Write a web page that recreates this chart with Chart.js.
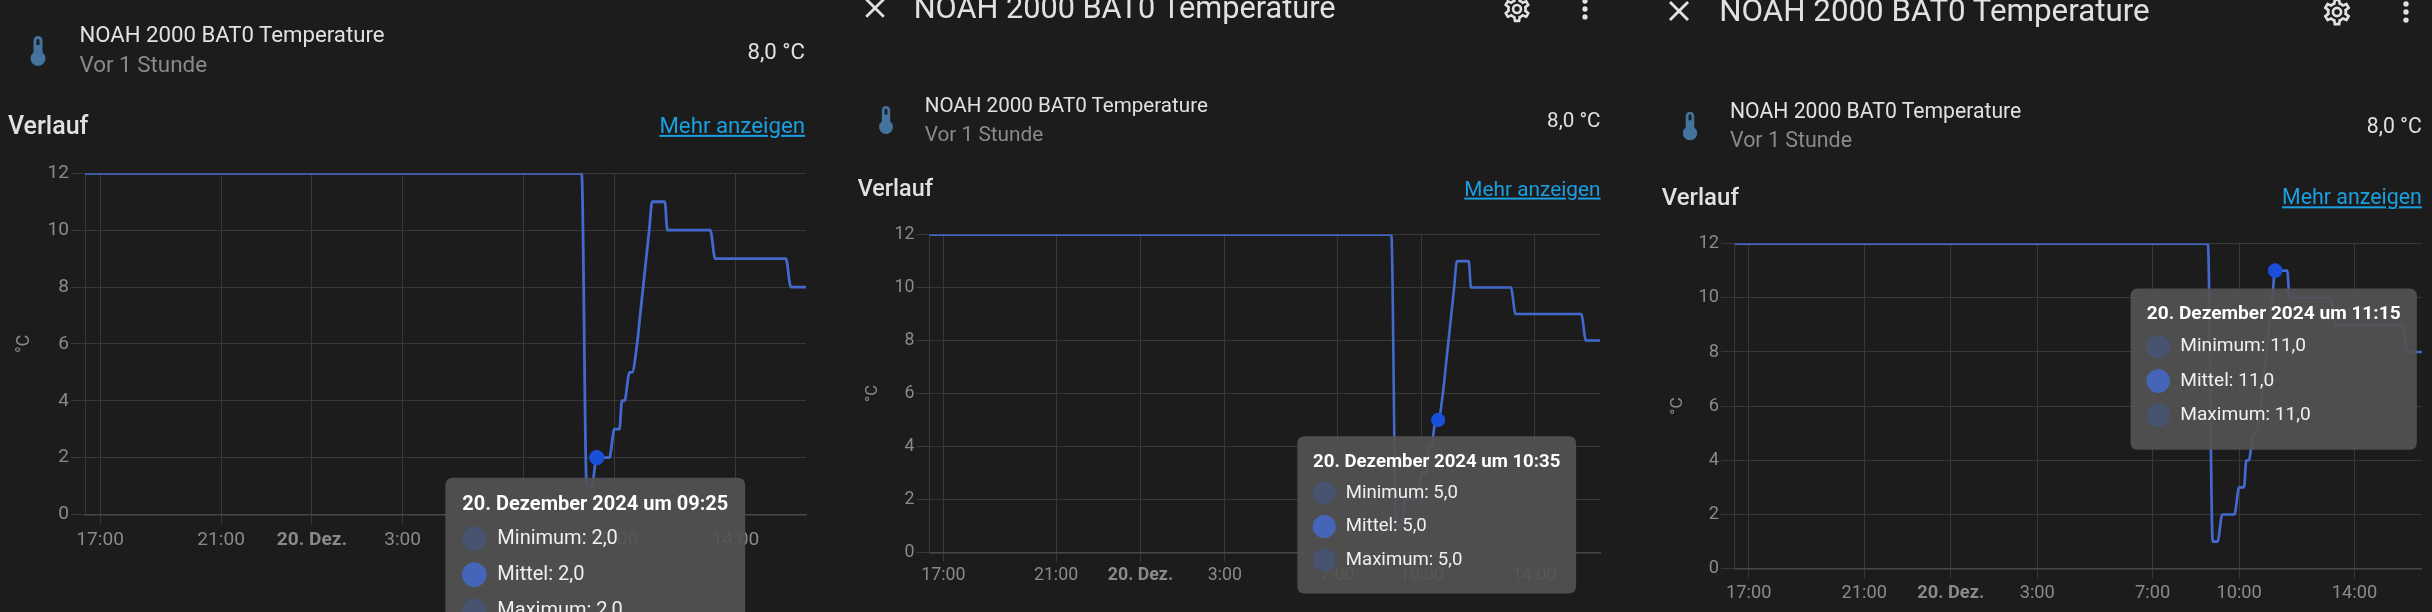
<!DOCTYPE html>
<html lang="de">
<head>
<meta charset="utf-8">
<title>NOAH 2000 BAT0 Temperature</title>
<script src="https://cdn.jsdelivr.net/npm/chart.js@4"></script>
<style>
html, body { margin: 0; width: 2432px; height: 612px; overflow: hidden; background: #1c1c1c; }
body { position: relative; font-family: Roboto, sans-serif; }
canvas { position: absolute; display: block; }
.txt { position: absolute; white-space: nowrap; transform: translateY(-50%); line-height: 1; }
.txt.right { transform: translate(-100%, -50%); }
svg { position: absolute; transform: translate(-50%, -50%); }
</style>
</head>
<body>
<script>
// minutes relative to midnight of 20 Dez (negative = evening before)
let sampleMinutes = [-450, 535, 545, 555, 565, 590, 600, 610, 615, 620, 630, 635, 645, 651, 657, 663, 669, 675, 700, 705, 790, 800, 940, 950, 980];
let temps = [12, 12, 1, 1, 2, 2, 3, 3, 4, 4, 5, 5, 6, 7, 8, 9, 10, 11, 11, 10, 10, 9, 9, 8, 8];

let tickMinutes = [-420, -180, 0, 180, 420, 600, 840];
let tickLabels = ["17:00", "21:00", "20. Dez.", "3:00", "7:00", "10:00", "14:00"];
let seriesNames = ["Minimum", "Mittel", "Maximum"];

let entityName = "NOAH 2000 BAT0 Temperature";
let unitName = "°C";

const ICON_THERMO = "M15 13V5A3 3 0 0 0 9 5V13A5 5 0 1 0 15 13M12 4A1 1 0 0 1 13 5V8H11V5A1 1 0 0 1 12 4Z";
const ICON_CLOSE = "M19,6.41L17.59,5L12,10.59L6.41,5L5,6.41L10.59,12L5,17.59L6.41,19L12,13.41L17.59,19L19,17.59L13.41,12L19,6.41Z";
const ICON_DOTS = "M12,16A2,2 0 0,1 14,18A2,2 0 0,1 12,20A2,2 0 0,1 10,18A2,2 0 0,1 12,16M12,10A2,2 0 0,1 14,12A2,2 0 0,1 12,14A2,2 0 0,1 10,12A2,2 0 0,1 12,10M12,4A2,2 0 0,1 14,6A2,2 0 0,1 12,8A2,2 0 0,1 10,6A2,2 0 0,1 12,4Z";
const ICON_COG = "M12,8A4,4 0 0,1 16,12A4,4 0 0,1 12,16A4,4 0 0,1 8,12A4,4 0 0,1 12,8M12,10A2,2 0 0,0 10,12A2,2 0 0,0 12,14A2,2 0 0,0 14,12A2,2 0 0,0 12,10M10,22C9.75,22 9.54,21.82 9.5,21.58L9.13,18.93C8.5,18.68 7.96,18.34 7.44,17.94L4.95,18.95C4.73,19.03 4.46,18.95 4.34,18.73L2.34,15.27C2.21,15.05 2.27,14.78 2.46,14.63L4.57,12.97L4.5,12L4.57,11L2.46,9.37C2.27,9.22 2.21,8.95 2.34,8.73L4.34,5.27C4.46,5.05 4.73,4.96 4.95,5.05L7.44,6.05C7.96,5.66 8.5,5.32 9.13,5.07L9.5,2.42C9.54,2.18 9.75,2 10,2H14C14.25,2 14.46,2.18 14.5,2.42L14.87,5.07C15.5,5.32 16.04,5.66 16.56,6.05L19.05,5.05C19.27,4.96 19.54,5.05 19.66,5.27L21.66,8.73C21.79,8.95 21.73,9.22 21.54,9.37L19.43,11L19.5,12L19.43,13L21.54,14.63C21.73,14.78 21.79,15.05 21.66,15.27L19.66,18.73C19.54,18.95 19.27,19.04 19.05,18.95L16.56,17.95C16.04,18.34 15.5,18.68 14.87,18.93L14.5,21.58C14.46,21.82 14.25,22 14,22H10M11.25,4L10.88,6.61C9.68,6.86 8.62,7.5 7.85,8.39L5.44,7.35L4.69,8.65L6.8,10.2C6.4,11.37 6.4,12.64 6.8,13.8L4.68,15.36L5.43,16.66L7.86,15.62C8.63,16.5 9.68,17.14 10.87,17.38L11.24,20H12.76L13.13,17.39C14.32,17.14 15.37,16.5 16.14,15.62L18.57,16.66L19.32,15.36L17.2,13.81C17.6,12.64 17.6,11.37 17.2,10.2L19.31,8.65L18.56,7.35L16.15,8.39C15.38,7.5 14.32,6.86 13.12,6.62L12.75,4H11.25Z";

function addText(text, x, y, size, color, weight, right, underline) {
    let el = document.createElement("div");
    el.className = right ? "txt right" : "txt";
    el.textContent = text;
    el.style.left = x + "px";
    el.style.top = y + "px";
    el.style.fontSize = size + "px";
    el.style.color = color;
    el.style.fontWeight = weight || 400;
    if (underline) el.style.textDecoration = "underline";
    document.body.appendChild(el);
}

function addIcon(path, x, y, size, color) {
    let ns = "http://www.w3.org/2000/svg";
    let svg = document.createElementNS(ns, "svg");
    svg.setAttribute("viewBox", "0 0 24 24");
    svg.setAttribute("width", size);
    svg.setAttribute("height", size);
    svg.style.left = x + "px";
    svg.style.top = y + "px";
    let p = document.createElementNS(ns, "path");
    p.setAttribute("d", path);
    p.setAttribute("fill", color);
    svg.appendChild(p);
    document.body.appendChild(svg);
}

// tooltip sits just under the hovered point, like in the frontend
Chart.Tooltip.positioners.underPoint = function (items) {
    if (!items.length) return false;
    let p = items[0].element;
    return { x: p.x - 1.5, y: p.y + this.chart.options.plugins.tooltip.gapBelow };
};

function pad2(n) {
    return String(n).padStart(2, "0");
}

function drawPanel(cfg) {
    let k = cfg.k;
    let canvasHeight = 720;

    let canvas = document.createElement("canvas");
    canvas.style.left = cfg.left + "px";
    canvas.style.top = "0px";
    canvas.style.width = cfg.width + "px";
    canvas.style.height = canvasHeight + "px";
    canvas.width = cfg.width;
    canvas.height = canvasHeight;
    document.body.appendChild(canvas);

    let points = sampleMinutes.map((m, i) => ({ x: m, y: temps[i] }));
    let hoverIndex = sampleMinutes.indexOf(cfg.hoverMinute);
    let xAxisHeight = 60;
    let tickFont = { family: "Roboto", size: 19.1 * k };

    let chart = new Chart(canvas, {
        type: "line",
        data: {
            datasets: seriesNames.map((name, i) => ({
                label: name,
                data: points,
                showLine: i === 1, // all three are equal here, only the mean is stroked
                borderColor: "#4369cf",
                borderWidth: 2.8 * k,
                cubicInterpolationMode: "monotone",
                pointRadius: 0,
                pointHoverRadius: 7.4 * k,
                pointHoverBorderWidth: 0,
                pointHoverBackgroundColor: "#1a4fd9"
            }))
        },
        options: {
            responsive: false,
            devicePixelRatio: 1,
            animation: false,
            events: [],
            layout: {
                padding: {
                    left: 0,
                    top: cfg.y12,
                    right: cfg.width - (cfg.plotRight - cfg.left),
                    bottom: canvasHeight - cfg.y0 - xAxisHeight
                }
            },
            scales: {
                x: {
                    type: "linear",
                    min: -450,
                    max: 980,
                    afterBuildTicks: (axis) => {
                        axis.ticks = tickMinutes.map((v) => ({ value: v }));
                    },
                    afterFit: (axis) => {
                        axis.height = xAxisHeight;
                    },
                    grid: { color: "#383838", lineWidth: 1, tickLength: 10 * k, tickColor: "#383838" },
                    border: { color: "#484848", width: 1.5 },
                    ticks: {
                        color: "#8a8a8a",
                        padding: 4 * k,
                        maxRotation: 0,
                        autoSkip: false,
                        callback: (value) => tickLabels[tickMinutes.indexOf(value)],
                        font: (ctx) => ({ family: "Roboto", size: tickFont.size, weight: ctx.index === 2 ? "bold" : "normal" })
                    }
                },
                y: {
                    min: 0,
                    max: 12,
                    afterFit: (axis) => {
                        axis.width = cfg.plotLeft - cfg.left;
                    },
                    grid: { color: "#383838", lineWidth: 1, tickLength: 14 * k, tickColor: "#383838" },
                    border: { color: "#383838" },
                    ticks: { color: "#8a8a8a", stepSize: 2, padding: 2, font: tickFont },
                    title: {
                        display: true,
                        text: unitName,
                        color: "#8a8a8a",
                        font: { family: "Roboto", size: 18 * k },
                        padding: { top: cfg.unitGap, bottom: 0 }
                    }
                }
            },
            plugins: {
                legend: { display: false },
                title: { display: false },
                tooltip: {
                    enabled: true,
                    position: "underPoint",
                    gapBelow: cfg.gapBelow,
                    xAlign: "center",
                    yAlign: "top",
                    caretSize: 0,
                    caretPadding: 0,
                    cornerRadius: 8 * k,
                    backgroundColor: "rgba(82, 82, 82, 0.92)",
                    multiKeyBackground: "rgba(0, 0, 0, 0)",
                    titleColor: "#ffffff",
                    bodyColor: "#f0f0f0",
                    titleFont: { family: "Roboto", size: 20 * k, weight: "bold", lineHeight: 1.15 },
                    bodyFont: { family: "Roboto", size: 20 * k, lineHeight: 1.2 },
                    titleMarginBottom: 10 * k,
                    bodySpacing: 12 * k,
                    padding: { left: 17 * k, right: 17 * k, top: 16 * k, bottom: 24 * k },
                    usePointStyle: true,
                    boxWidth: 24 * k,
                    boxHeight: 24 * k,
                    boxPadding: 9 * k,
                    callbacks: {
                        title: (items) => {
                            let m = items[0].parsed.x;
                            return "20. Dezember 2024 um " + pad2(Math.floor(m / 60)) + ":" + pad2(m % 60);
                        },
                        label: (item) => item.dataset.label + ": " + item.parsed.y.toFixed(1).replace(".", ","),
                        labelColor: (item) => {
                            let c = item.datasetIndex === 1 ? "#4566b8" : "#485370";
                            return { backgroundColor: c, borderColor: c };
                        },
                        labelPointStyle: () => ({ pointStyle: "circle", rotation: 0 })
                    }
                }
            }
        }
    });

    let active = seriesNames.map((n, i) => ({ datasetIndex: i, index: hoverIndex }));
    chart.setActiveElements(active);
    chart.tooltip.setActiveElements(active, { x: 0, y: 0 });
    chart.update();

    // card text around the chart
    let t = cfg.text;
    addIcon(ICON_THERMO, t.iconX, t.iconY, 36 * k, "#44739e");
    addText(entityName, t.nameX, t.nameY, t.nameSize, "#e1e1e1");
    addText("Vor 1 Stunde", t.nameX, t.subY, t.nameSize * 1.01, "#8a8a8a");
    addText("8,0 °C", t.edge, t.iconY, t.nameSize, "#e1e1e1", 400, true);
    addText("Verlauf", t.verlaufX, t.verlaufY, t.verlaufSize, "#e1e1e1", 500);
    addText("Mehr anzeigen", t.edge, t.verlaufY, t.verlaufSize * 0.89, "#1c9fe0", 400, true, true);
    if (t.topY !== undefined) {
        addIcon(ICON_CLOSE, t.closeX, t.topY, 36 * k, "#e1e1e1");
        addText(entityName, t.titleX, t.topY, t.titleSize, "#e1e1e1");
        addIcon(ICON_COG, t.cogX, t.topY + 0.6, 34 * k, "#e1e1e1");
        addIcon(ICON_DOTS, t.dotsX, t.topY + 0.6, 34 * k, "#e1e1e1");
    }
}

drawPanel({
    left: 0, width: 830, plotLeft: 85, plotRight: 806, y12: 173.3, y0: 514.5, k: 1,
    hoverMinute: 565, gapBelow: 20, unitGap: 14,
    text: { iconX: 37.6, iconY: 50.5, nameX: 79.4, nameY: 34.3, subY: 64.4, nameSize: 22.2, verlaufX: 8, verlaufY: 125, verlaufSize: 25, edge: 805 }
});
drawPanel({
    left: 835, width: 775, plotLeft: 929.4, plotRight: 1600, y12: 234.6, y0: 552.3, k: 0.93,
    hoverMinute: 635, gapBelow: 16.4, unitGap: 28,
    text: { iconX: 886, iconY: 119.5, nameX: 924.7, nameY: 105.4, subY: 133.5, nameSize: 20.6, verlaufX: 857.7, verlaufY: 189.3, verlaufSize: 23.4, edge: 1600.5,
        topY: 8, closeX: 874.5, titleX: 913.7, titleSize: 30.7, cogX: 1517, dotsX: 1584.7 }
});
drawPanel({
    left: 1650, width: 782, plotLeft: 1734.4, plotRight: 2421.8, y12: 243.6, y0: 568.7, k: 0.955,
    hoverMinute: 675, gapBelow: 17.7, unitGap: 17,
    text: { iconX: 1690, iconY: 126, nameX: 1730, nameY: 111, subY: 139.7, nameSize: 21.2, verlaufX: 1661.7, verlaufY: 196.5, verlaufSize: 24, edge: 2421.8,
        topY: 11, closeX: 1679, titleX: 1719.3, titleSize: 31.3, cogX: 2337, dotsX: 2405.6 }
});
</script>
</body>
</html>
